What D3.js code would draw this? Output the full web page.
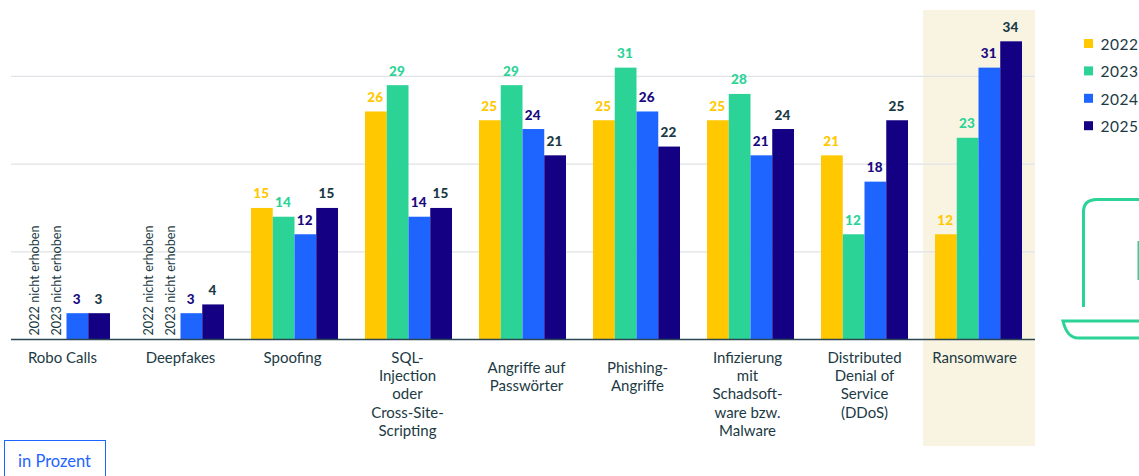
<!DOCTYPE html>
<html><head><meta charset="utf-8">
<script src="https://cdn.jsdelivr.net/npm/d3@7/dist/d3.min.js"></script>
<style>html,body{margin:0;padding:0;background:#fff;overflow:hidden}svg{display:block}text{font-family:Lato,"Noto Sans",sans-serif}</style>
</head><body><svg id="c" width="1139" height="476"></svg>
<script>
const categories=["Robo Calls","Deepfakes","Spoofing","SQL-Injection","Angriffe","Phishing","Infizierung","DDoS","Ransomware"];
const categoryLines=[["Robo Calls"],["Deepfakes"],["Spoofing"],["SQL-","Injection","oder","Cross-Site-","Scripting"],["Angriffe auf","Passwörter"],["Phishing-","Angriffe"],["Infizierung","mit","Schadsoft-","ware bzw.","Malware"],["Distributed","Denial of","Service","(DDoS)"],["Ransomware"]];
const labelNudgeX=[-3,+1,-1,0,+5,+2,-2,+1,-3];
const labelNudgeY=[0,0,0,0,10,10,0,0,0];
const years=["2022","2023","2024","2025"];
const v2022=[null,null,15,26,25,25,25,21,12];
const v2023=[null,null,14,29,29,31,28,12,23];
const v2024=[3,3,12,14,24,26,21,18,31];
const v2025=[3,4,15,15,21,22,24,25,34];
const series=[v2022,v2023,v2024,v2025];
const gridTicks=[10,20,30];
const missingText=" nicht erhoben";
const barColors=["#ffc800","#2bd397","#1e64ff","#140082"];
const labelColors=["#ffc800","#2bd397","#1a0a80","#1b3a44"];
const ink="#1b3a44";

const svg=d3.select("#c");
const x=d3.scaleBand().domain(categories).range([9.5,1035.5]).paddingInner(27/114).paddingOuter(13.5/114);
const x1=d3.scaleBand().domain(years).range([0,x.bandwidth()]);
const y=d3.scaleLinear().domain([0,10]).range([339.5,251.8]);

svg.append("rect").attr("x",x("Ransomware")-12).attr("y",10).attr("width",112).attr("height",436).attr("fill","#f9f4e2");

svg.append("g").selectAll("line").data(gridTicks).join("line")
 .attr("x1",11).attr("x2",1035).attr("y1",d=>y(d)).attr("y2",d=>y(d))
 .attr("stroke","#e0e2e5").attr("stroke-width",1.2);

series.forEach((vals,si)=>{
  const yr=years[si];
  const g=svg.append("g");
  const rows=categories.map((c,i)=>({c,v:vals[i]}));
  g.selectAll("rect").data(rows.filter(d=>d.v!==null)).join("rect")
   .attr("x",d=>x(d.c)+x1(yr)).attr("width",x1.bandwidth())
   .attr("y",d=>y(d.v)).attr("height",d=>y(0)-y(d.v)).attr("fill",barColors[si]);
  g.selectAll("text.v").data(rows.filter(d=>d.v!==null)).join("text").attr("class","v")
   .attr("x",d=>x(d.c)+x1(yr)+x1.bandwidth()/2-0.5).attr("y",d=>y(d.v)-9.5)
   .attr("text-anchor","middle").attr("font-size",13.5).attr("font-weight",900)
   .attr("fill",labelColors[si]).style("letter-spacing","0.4px").text(d=>d.v);
  g.selectAll("text.m").data(rows.filter(d=>d.v===null)).join("text").attr("class","m")
   .attr("transform",d=>`translate(${x(d.c)+x1(yr)+x1.bandwidth()/2+5},${y(0)-4}) rotate(-90)`)
   .attr("font-size",12.7).attr("fill",ink).text(yr+missingText);
});

svg.append("line").attr("x1",11).attr("x2",1035).attr("y1",y(0)).attr("y2",y(0)).attr("stroke","#2b4650").attr("stroke-width",1.5);

const cat=svg.append("g").selectAll("text").data(categories).join("text")
 .attr("text-anchor","middle").attr("font-size",15).attr("fill",ink)
 .attr("transform",(d,i)=>`translate(${x(d)+x.bandwidth()/2-1+labelNudgeX[i]},${363+labelNudgeY[i]})`);
cat.each(function(d,i){
  d3.select(this).selectAll("tspan").data(categoryLines[i]).join("tspan")
   .attr("x",0).attr("dy",(t,j)=>j?18.2:0).text(t=>t);
});

const leg=svg.append("g").selectAll("g").data(years).join("g").attr("transform",(d,i)=>`translate(1084,${39+i*27.4})`);
leg.append("rect").attr("width",9).attr("height",9).attr("fill",(d,i)=>barColors[i]);
leg.append("text").attr("x",16.5).attr("y",11).attr("font-size",15.5).attr("fill",ink).style("letter-spacing","0.5px").text(d=>d);

// icon (partly cropped at the right edge)
const icon=svg.append("g").attr("fill","none").attr("stroke","#2bd397").attr("stroke-width",3);
icon.append("path").attr("d","M1083.500 307V212Q1083.500 199.500 1097 199.500H1145");
icon.append("path").attr("d","M1139 241V280");
icon.append("path").attr("d","M1145 321H1063Q1067 338 1078 338H1145");

svg.append("rect").attr("x",4.500).attr("y",440.500).attr("width",101).attr("height",40).attr("fill","#fff").attr("stroke","#1e64ff").attr("stroke-width",1);
svg.append("text").attr("x",54.500).attr("y",466.500).attr("text-anchor","middle").attr("font-size",16.500).attr("fill","#1e64ff").text("in Prozent");
</script></body></html>
